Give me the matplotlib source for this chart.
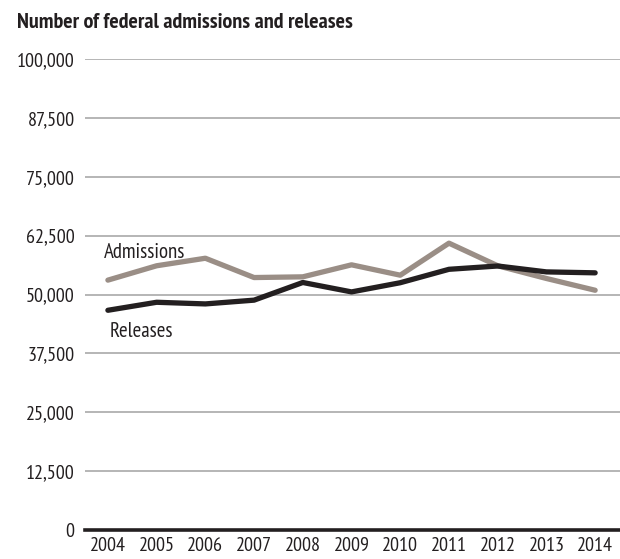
import matplotlib
matplotlib.use("Agg")
import matplotlib.pyplot as plt
from matplotlib import font_manager
from matplotlib.ticker import FuncFormatter

years = [2004, 2005, 2006, 2007, 2008, 2009, 2010, 2011, 2012, 2013, 2014]
admissions = [53050, 56100, 57700, 53600, 53750, 56300, 54100, 60900, 56100, 53400, 50900]
releases = [46650, 48350, 48000, 48800, 52550, 50550, 52500, 55350, 56050, 54800, 54600]
yticks = [0, 12500, 25000, 37500, 50000, 62500, 75000, 87500, 100000]
title = "Number of federal admissions and releases"

available = {f.name for f in font_manager.fontManager.ttflist}
candidates = ["PT Sans Narrow", "Roboto Condensed", "Archivo Narrow", "Sofia Sans Condensed",
              "Liberation Sans Narrow"]
chosen = [c for c in candidates if c in available][:1]
FONT = chosen + ["DejaVu Sans"]
plt.rcParams['font.family'] = FONT

fig = plt.figure(figsize=(6.2, 5.59), dpi=100)
ax = fig.add_axes([85/620, 29/559, 535/620, 471/559])

for v in yticks[1:]:
    ax.axhline(v, color="#a9a9a9", lw=1.2, zorder=1)
ax.axhline(0, color="#231f20", lw=2.6, zorder=3, clip_on=False)

ax.plot(years, admissions, color="#9a8e86", lw=3.8, solid_capstyle="round", zorder=4)
ax.plot(years, releases, color="#231f20", lw=3.8, solid_capstyle="round", zorder=5)

ax.set_xlim(2003.53, 2014.51)
ax.set_ylim(0, 100000)
ax.set_yticks(yticks)
ax.yaxis.set_major_formatter(FuncFormatter(lambda v, p: f"{int(v):,}"))
ax.set_xticks(years)
ax.set_xticklabels([str(y) for y in years])
ax.tick_params(axis="both", length=0, labelsize=14.5, colors="#231f20")
ax.tick_params(axis="y", pad=7.5)
ax.tick_params(axis="x", pad=5)
for s in ax.spines.values():
    s.set_visible(False)

ax.text(2003.92, 58900, "Admissions", fontsize=15, color="#231f20", ha="left", va="center")
ax.text(2004.03, 42200, "Releases", fontsize=15, color="#231f20", ha="left", va="center")

fig.text(17/620, 1 - 22/559, title, fontsize=15.8, fontweight="bold", color="#231f20",
         ha="left", va="center")

fig.savefig("out.png", dpi=100)
